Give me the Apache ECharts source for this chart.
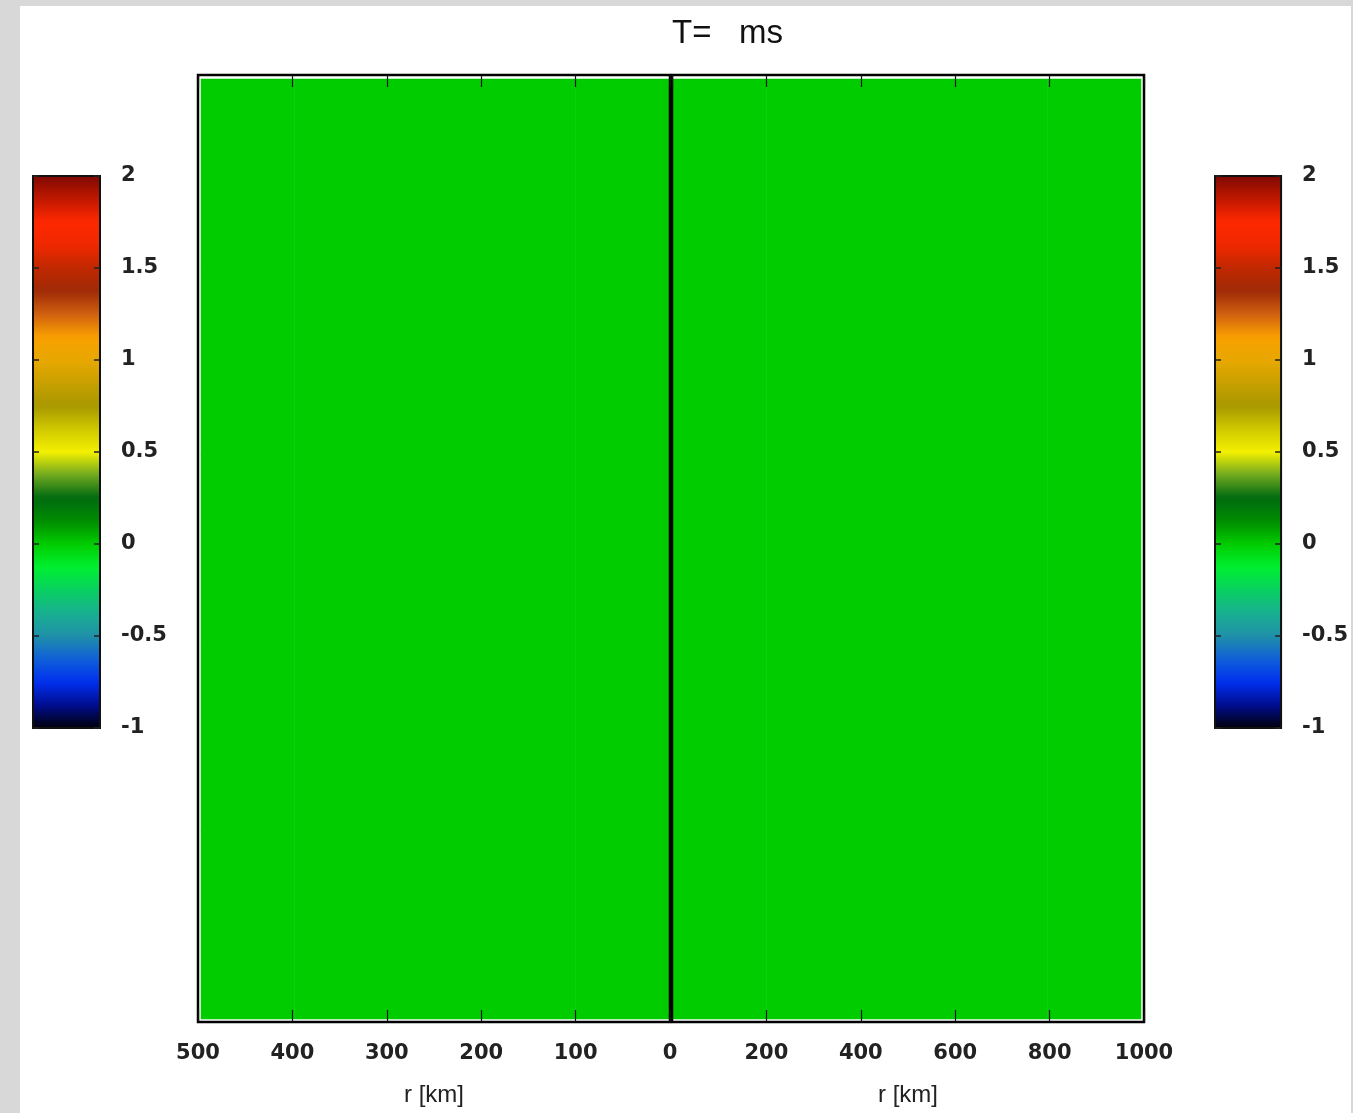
<!DOCTYPE html>
<html>
<head>
<meta charset="utf-8">
<script src="https://cdn.jsdelivr.net/npm/echarts@6/dist/echarts.min.js"></script>
<style>
html,body{margin:0;padding:0;background:#d8d8d8;}
#chart{position:absolute;left:20px;top:6px;width:1331px;height:1107px;background:#fff;}
</style>
</head>
<body>
<div id="chart"></div>
<script>
// axis ticks (km)
var leftTicks = [0, 100, 200, 300, 400, 500];
var rightTicks = [0, 200, 400, 600, 800, 1000];
// colour bar ticks
var barTicks = [-1, -0.5, 0, 0.5, 1, 1.5, 2];
// colour table, evenly spaced from -1 to 2
var colorScale = [
    '#00000a', '#000c90', '#0030f0', '#1060d8', '#2090a8', '#18b090', '#08d060', '#00f030',
    '#00cc00', '#008c00', '#006a10', '#70a820', '#f4f000', '#d0c800', '#a89800', '#c8a000',
    '#e8a800', '#f8a000', '#d06010', '#a02a08', '#c02800', '#f02800', '#ff2800', '#c01800',
    '#800800'
];
// field values, the whole domain sits at ~0
var fieldLeft = [
    [0, 0, 0, 0, 0],
    [0, 0, 0, 0, 0],
    [0, 0, 0, 0, 0],
    [0, 0, 0, 0, 0],
    [0, 0, 0, 0, 0]
];
var fieldRight = [
    [0, 0, 0, 0, 0],
    [0, 0, 0, 0, 0],
    [0, 0, 0, 0, 0],
    [0, 0, 0, 0, 0],
    [0, 0, 0, 0, 0]
];

function toCells(rows) {
    var out = [];
    rows.forEach(function (row, j) {
        row.forEach(function (v, i) {
            out.push([i, j, v]);
        });
    });
    return out;
}
function idx(rows) {
    return rows[0].map(function (v, i) { return i; });
}

var chart = echarts.init(document.getElementById('chart'));
var numFont = { fontFamily: 'DejaVu Sans', fontWeight: 'bold', fontSize: 21, color: '#222' };
var noSplit = { show: false, lineStyle: { opacity: 0 } };

function mainX(grid, ticks, inverse, pos) {
    return {
        gridIndex: grid, type: 'value', position: pos,
        min: ticks[0], max: ticks[ticks.length - 1], interval: ticks[1] - ticks[0],
        inverse: inverse, z: 6,
        axisLine: { show: false, onZero: false },
        axisTick: { show: true, inside: true, length: 12, lineStyle: { color: '#111', width: 1.2 } },
        minorTick: { show: false },
        splitLine: noSplit,
        minorSplitLine: { show: false },
        splitArea: { show: false },
        axisLabel: pos === 'bottom' ? Object.assign({
            margin: 21, showMinLabel: inverse,
            formatter: function (v) { return String(v); }
        }, numFont) : { show: false },
        name: pos === 'bottom' ? 'r [km]' : '',
        nameLocation: 'middle', nameGap: 61,
        nameTextStyle: { fontFamily: 'Liberation Sans', fontSize: 24, color: '#222' }
    };
}
function barY(grid, pos, labels) {
    return {
        gridIndex: grid, type: 'value', position: pos,
        min: barTicks[0], max: barTicks[barTicks.length - 1], interval: barTicks[1] - barTicks[0],
        z: 10,
        axisLine: { show: false, onZero: false },
        axisTick: { show: true, inside: true, length: 6, lineStyle: { color: '#222', width: 1.5 } },
        splitLine: noSplit,
        axisLabel: labels ? Object.assign({ margin: 21, align: 'left' }, numFont) : { show: false }
    };
}
function hiddenCat(grid, data) {
    return { gridIndex: grid, type: 'category', data: data, show: false, boundaryGap: true };
}
function hiddenVal(grid) {
    return { gridIndex: grid, type: 'value', min: 0, max: 1, show: false, splitLine: noSplit, axisLine: { onZero: false } };
}

var frame = { show: true, borderColor: '#000', borderWidth: 2.5, z: 5 };
var barFrame = { show: true, borderColor: '#111', borderWidth: 2, z: 10 };

var option = {
    animation: false,
    title: {
        text: 'T=   ms', left: 647, top: 6,
        textStyle: { fontFamily: 'Liberation Sans', fontWeight: 'normal', fontSize: 33, color: '#111' }
    },
    grid: [
        Object.assign({ left: 178, top: 69, width: 472, height: 947 }, frame),
        Object.assign({ left: 652, top: 69, width: 472, height: 947 }, frame),
        { left: 181, top: 73, width: 468, height: 940 },
        { left: 653, top: 73, width: 468, height: 940 },
        Object.assign({ left: 13, top: 170, width: 67, height: 552 }, barFrame),
        Object.assign({ left: 1195, top: 170, width: 67, height: 552 }, barFrame)
    ],
    xAxis: [
        mainX(0, leftTicks, true, 'bottom'),
        mainX(0, leftTicks, true, 'top'),
        mainX(1, rightTicks, false, 'bottom'),
        mainX(1, rightTicks, false, 'top'),
        hiddenCat(2, idx(fieldLeft)),
        hiddenCat(3, idx(fieldRight)),
        hiddenVal(4),
        hiddenVal(5)
    ],
    yAxis: [
        hiddenVal(0),
        hiddenVal(1),
        hiddenCat(2, fieldLeft.map(function (r, j) { return j; })),
        hiddenCat(3, fieldRight.map(function (r, j) { return j; })),
        barY(4, 'right', true),
        barY(4, 'left', false),
        barY(5, 'right', true),
        barY(5, 'left', false)
    ],
    visualMap: [
        {
            type: 'continuous', seriesIndex: 0, min: -1, max: 2, calculable: false,
            left: 13, top: 170, itemWidth: 67, itemHeight: 552, padding: 0,
            inRange: { color: colorScale }, hoverLink: false, text: null, z: 4
        },
        {
            type: 'continuous', seriesIndex: 1, min: -1, max: 2, calculable: false,
            left: 1195, top: 170, itemWidth: 67, itemHeight: 552, padding: 0,
            inRange: { color: colorScale }, hoverLink: false, text: null, z: 4
        }
    ],
    series: [
        {
            type: 'heatmap', xAxisIndex: 4, yAxisIndex: 2, data: toCells(fieldLeft),
            itemStyle: { borderWidth: 0 }, emphasis: { disabled: true }
        },
        {
            type: 'heatmap', xAxisIndex: 5, yAxisIndex: 3, data: toCells(fieldRight),
            itemStyle: { borderWidth: 0 }, emphasis: { disabled: true }
        }
    ]
};
chart.setOption(option);
</script>
</body>
</html>
